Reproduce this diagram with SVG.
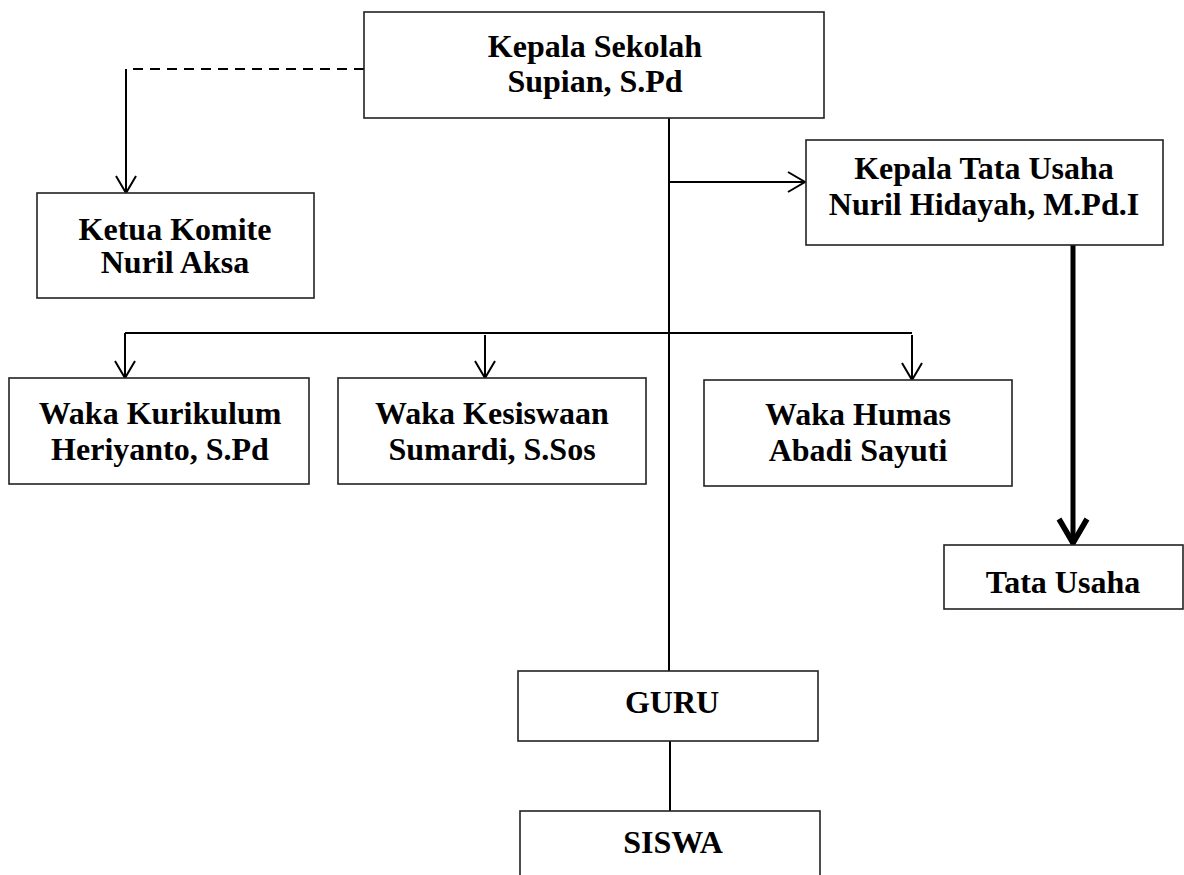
<svg xmlns="http://www.w3.org/2000/svg" width="1184" height="875" viewBox="0 0 1184 875">
<style>
.box{fill:#fff;stroke:#222;stroke-width:1.6}
.t{font-family:"Liberation Serif","Times New Roman",serif;font-weight:bold;font-size:32px;fill:#000;text-anchor:middle}
.ln{fill:none;stroke:#000;stroke-width:2}
.dash{fill:none;stroke:#000;stroke-width:2;stroke-dasharray:10,7}
.thick{fill:none;stroke:#000;stroke-width:5}
</style>
<defs>
<marker id="arr" markerUnits="userSpaceOnUse" markerWidth="24" markerHeight="24" refX="18" refY="12" orient="auto">
<path d="M1,2 L18,12 L1,22" fill="none" stroke="#000" stroke-width="2"/>
</marker>
<marker id="arrT" markerUnits="userSpaceOnUse" markerWidth="36" markerHeight="36" refX="28" refY="18" orient="auto">
<path d="M3,4 L27,18 L3,32" fill="none" stroke="#000" stroke-width="5.5"/>
</marker>
</defs>
<g id="connectors">
<path class="dash" d="M364,69 H126"/>
<path class="ln" d="M126,69 V193" marker-end="url(#arr)"/>
<path class="ln" d="M669,118 V671"/>
<path class="ln" d="M669,182 H805" marker-end="url(#arr)"/>
<path class="thick" d="M1073,245 V544" marker-end="url(#arrT)"/>
<path class="ln" d="M125,333 H912"/>
<path class="ln" d="M125,333 V378" marker-end="url(#arr)"/>
<path class="ln" d="M485,335 V378" marker-end="url(#arr)"/>
<path class="ln" d="M912,335 V380" marker-end="url(#arr)"/>
<path class="ln" d="M670,741 V811"/>
</g>
<g id="kepala-sekolah">
<rect class="box" x="364" y="12" width="460" height="106"/>
<text class="t" x="595" y="57">Kepala Sekolah</text>
<text class="t" x="595" y="92">Supian, S.Pd</text>
</g>
<g id="ketua-komite">
<rect class="box" x="37" y="193" width="277" height="105"/>
<text class="t" x="175" y="240">Ketua Komite</text>
<text class="t" x="175" y="273">Nuril Aksa</text>
</g>
<g id="kepala-tata-usaha">
<rect class="box" x="806" y="140" width="357" height="105"/>
<text class="t" x="984" y="179">Kepala Tata Usaha</text>
<text class="t" x="984" y="215">Nuril Hidayah, M.Pd.I</text>
</g>
<g id="waka-kurikulum">
<rect class="box" x="9" y="378" width="300" height="106"/>
<text class="t" x="160" y="424">Waka Kurikulum</text>
<text class="t" x="160" y="460">Heriyanto, S.Pd</text>
</g>
<g id="waka-kesiswaan">
<rect class="box" x="338" y="378" width="308" height="106"/>
<text class="t" x="492" y="424">Waka Kesiswaan</text>
<text class="t" x="492" y="460">Sumardi, S.Sos</text>
</g>
<g id="waka-humas">
<rect class="box" x="704" y="380" width="308" height="106"/>
<text class="t" x="858" y="425">Waka Humas</text>
<text class="t" x="858" y="461">Abadi Sayuti</text>
</g>
<g id="tata-usaha">
<rect class="box" x="944" y="545" width="239" height="64"/>
<text class="t" x="1063" y="593">Tata Usaha</text>
</g>
<g id="guru">
<rect class="box" x="518" y="671" width="300" height="70"/>
<text class="t" x="672" y="713">GURU</text>
</g>
<g id="siswa">
<rect class="box" x="520" y="811" width="300" height="80"/>
<text class="t" x="673" y="853">SISWA</text>
</g>
</svg>
